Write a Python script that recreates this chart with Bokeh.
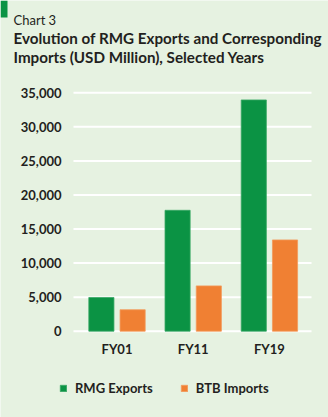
from bokeh.plotting import figure
from bokeh.models import Range1d, Legend, LegendItem, ColumnDataSource
from bokeh.core.properties import value
from bokeh.embed import file_html
from bokeh.resources import INLINE

years = ["FY01", "FY11", "FY19"]
rmg_exports = [4950, 17750, 33950]
btb_imports = [3150, 6650, 13400]
y_ticks = [0, 5000, 10000, 15000, 20000, 25000, 30000, 35000]
series_names = ["RMG Exports", "BTB Imports"]
chart_label = "Chart 3"
title_lines = ["Evolution of RMG Exports and Corresponding",
               "Imports (USD Million), Selected Years"]

BG = "#e6f2e1"
GREEN = "#0b9344"
ORANGE = "#f08033"
TXT = "#231f20"
FONT = "Lato"

W, H = 328, 417
# pixel geometry of the plotting area
CAT0_PX, CAT_STEP_PX = 116.5, 76.2      # first category centre, spacing
ZERO_PX, TOP_PX, TOP_VAL = 330.7, 92.3, 35000
PX_PER_VAL = (ZERO_PX - TOP_PX) / TOP_VAL
GRID_L, GRID_R = 73, 311


def px_x(px):
    return (px - CAT0_PX) / CAT_STEP_PX


def px_y(py):
    return (ZERO_PX - py) / PX_PER_VAL


p = figure(width=W, height=H, output_backend="svg", toolbar_location=None, title=None,
           x_axis_type=None, y_axis_type=None,
           x_range=Range1d(px_x(0), px_x(W)), y_range=Range1d(px_y(H), px_y(0)),
           min_border=0, min_border_left=0, min_border_right=0,
           min_border_top=0, min_border_bottom=0)
p.background_fill_color = BG
p.border_fill_color = BG
p.outline_line_color = None
p.grid.visible = False

# header
p.quad(left=[px_x(0)], right=[px_x(7)], top=[px_y(0)], bottom=[px_y(17)],
       fill_color=GREEN, line_color=None)
p.text(x=[px_x(13)], y=[px_y(19)], text=[chart_label], text_font=value(FONT),
       text_font_size="13px", text_color=TXT, text_baseline="alphabetic")
p.text(x=[px_x(13)] * 2, y=[px_y(37), px_y(56)], text=title_lines, text_font=value(FONT),
       text_font_style="bold", text_font_size="15.2px", text_color=TXT,
       text_baseline="alphabetic")

# y gridlines and tick labels
p.segment(x0=[px_x(GRID_L)] * len(y_ticks), x1=[px_x(GRID_R)] * len(y_ticks),
          y0=y_ticks, y1=y_ticks, line_color="white", line_width=2)
p.text(x=[px_x(61)] * len(y_ticks), y=y_ticks, text=[f"{v:,}" for v in y_ticks],
       text_font=value(FONT), text_font_style="bold", text_font_size="13px",
       text_color=TXT, text_align="right", text_baseline="middle")

# bars
idx = list(range(len(years)))
src = ColumnDataSource(dict(i=idx, rmg=rmg_exports, btb=btb_imports,
                            rx=[i - 0.205 for i in idx], bx=[i + 0.205 for i in idx]))
r1 = p.vbar(x="rx", top="rmg", width=0.33, source=src,
            fill_color=GREEN, line_color="#3aa865", line_width=0.8)
r2 = p.vbar(x="bx", top="btb", width=0.33, source=src,
            fill_color=ORANGE, line_color="#f39a5c", line_width=0.8)

# x category labels
p.text(x=idx, y=[px_y(348)] * len(idx), text=years, text_font=value(FONT),
       text_font_style="bold", text_font_size="13px", text_color=TXT,
       text_align="center", text_baseline="middle")

legend = Legend(items=[LegendItem(label=series_names[0], renderers=[r1]),
                       LegendItem(label=series_names[1], renderers=[r2])],
                orientation="horizontal", location=(59, H - 396),
                padding=0, margin=0, spacing=27, label_standoff=8,
                glyph_width=8, glyph_height=8,
                background_fill_alpha=0, border_line_color=None,
                label_text_font=FONT, label_text_font_style="bold",
                label_text_font_size="13px", label_text_color=TXT)
p.add_layout(legend, "center")

open("out.html", "w").write(file_html(p, INLINE))
